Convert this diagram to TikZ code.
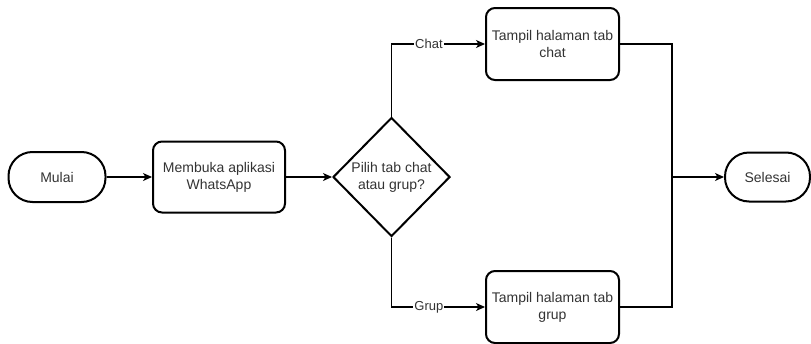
\documentclass[tikz,border=0pt]{standalone}
\usepackage{fontspec}
\setmainfont{Liberation Sans}
\usetikzlibrary{shapes.geometric,arrows.meta}
\definecolor{txt}{HTML}{333333}
\tikzset{
  x=1pt,y=-1pt,
  every node/.style={font=\fontsize{14}{17}\selectfont, text=txt, align=center},
  term/.style={draw=black, line width=2pt, rounded corners=24pt, minimum width=#1, minimum height=50pt, inner sep=0pt},
  proc/.style={draw=black, line width=2pt, rounded corners=9pt, minimum width=133pt, minimum height=72pt, inner sep=0pt},
  dec/.style={draw=black, line width=2pt, diamond, minimum width=117pt, minimum height=119pt, inner sep=0pt},
  conn/.style={draw=black, line width=1.2pt, -{Stealth[length=9pt,width=8pt,inset=2.5pt]}},
  plain/.style={draw=black, line width=1.2pt},
  elab/.style={fill=white, inner sep=1pt, font=\fontsize{13}{15}\selectfont}
}
\begin{document}
\begin{tikzpicture}
\useasboundingbox (0,0) rectangle (811,343);
\node[term=97pt] (mulai) at (57,177) {Mulai};
\node[proc, minimum width=132pt, minimum height=71pt] (buka) at (219,177) {Membuka aplikasi\\WhatsApp};
\node[dec] (pilih) at (391.5,177) {Pilih tab chat\\atau grup?};
\node[proc] (chat) at (552.5,44) {Tampil halaman tab\\chat};
\node[proc] (grup) at (552.5,307) {Tampil halaman tab\\grup};
\node[term=85pt, minimum height=49pt] (selesai) at (767.5,177) {Selesai};
\coordinate (m) at (672,177);
\draw[conn] (mulai) -- (buka);
\draw[conn] (buka) -- (pilih);
\draw[conn] (pilih.north) |- node[elab, pos=0.70] {Chat} (chat.west);
\draw[conn] (pilih.south) |- node[elab, pos=0.70] {Grup} (grup.west);
\draw[plain] (chat.east) -| (m);
\draw[plain] (grup.east) -| (m);
\draw[conn] (m) -- (selesai.west);
\end{tikzpicture}
\end{document}
